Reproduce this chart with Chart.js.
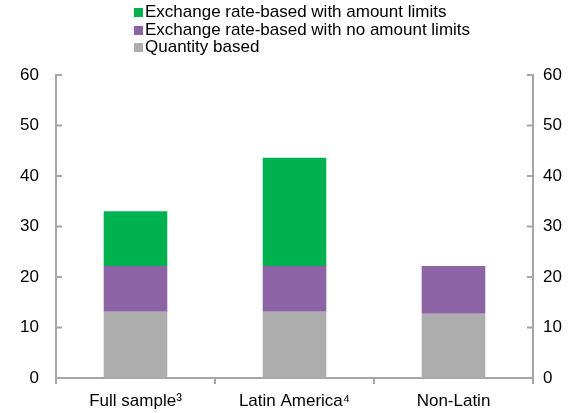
<!DOCTYPE html>
<html lang="en">
<head>
  <meta charset="UTF-8" />
  <title>Exchange rate-based programs</title>
  <script src="https://cdn.jsdelivr.net/npm/chart.js"></script>
  <style>
    body { margin: 0; background: #fff; }
    #wrap { position: relative; width: 576px; height: 413px; }
    #legend { position: absolute; left: 134px; top: 3px; font: 17px "Liberation Sans", Arial, sans-serif; color: #000; }
    #legend div { height: 17.5px; line-height: 17.5px; white-space: nowrap; }
    #legend span { display: inline-block; width: 9px; height: 9px; margin-right: 2px; vertical-align: 0px; }
  </style>
</head>
<body>
  <div id="wrap">
    <canvas id="chart" width="576" height="413"></canvas>
    <div id="legend"></div>
  </div>
  <script>
    const categories = ["Full sample\u00b3", "Latin America\u2074", "Non-Latin"];
    const quantityBased = [13.1, 13.1, 12.7];
    const noAmountLimits = [9.1, 9.1, 9.5];
    const withAmountLimits = [10.8, 21.4, 0];
    const yTicks = [0, 10, 20, 30, 40, 50, 60];

    const seriesNames = ["Quantity based", "Exchange rate-based with no amount limits", "Exchange rate-based with amount limits"];
    const seriesColors = ["#adadad", "#8c64a5", "#00b14f"];
    const axisColor = "#a6a6a6";
    const fontFamily = '"Liberation Sans", Arial, sans-serif';

    // legend, top entry = top of the stack
    const legend = document.getElementById("legend");
    for (let i = seriesNames.length - 1; i >= 0; i--) {
      const row = document.createElement("div");
      row.innerHTML = '<span style="background:' + seriesColors[i] + '"></span>' + seriesNames[i];
      legend.appendChild(row);
    }

    // small tick marks pointing into the plot on both value axes
    const innerTicks = {
      id: "innerTicks",
      afterDatasetsDraw(chart) {
        const ctx = chart.ctx;
        const yl = chart.scales.y, yr = chart.scales.y2;
        ctx.save();
        ctx.strokeStyle = axisColor;
        ctx.lineWidth = 2;
        yTicks.forEach(v => {
          const py = yl.getPixelForValue(v);
          ctx.beginPath();
          ctx.moveTo(yl.right, py); ctx.lineTo(yl.right + 6, py);
          ctx.moveTo(yr.left, py); ctx.lineTo(yr.left - 6, py);
          ctx.stroke();
        });
        ctx.restore();
      }
    };

    const valueAxis = (position, width, padding) => ({
      position,
      min: 0,
      max: 60,
      afterFit: s => { s.width = width; },
      afterBuildTicks: s => { s.ticks = yTicks.map(v => ({ value: v })); },
      border: { display: true, color: axisColor, width: 2 },
      grid: { display: false, drawTicks: false },
      ticks: { padding, color: "#000", font: { family: fontFamily, size: 17 } }
    });

    new Chart(document.getElementById("chart"), {
      type: "bar",
      data: {
        labels: categories,
        datasets: [quantityBased, noAmountLimits, withAmountLimits].map((d, i) => ({
          label: seriesNames[i],
          data: d,
          backgroundColor: seriesColors[i],
          borderWidth: 0,
          categoryPercentage: 1,
          barPercentage: 0.4
        }))
      },
      options: {
        responsive: false,
        animation: false,
        layout: { padding: { top: 75, bottom: 0, left: 0, right: 0 } },
        plugins: { legend: { display: false }, tooltip: { enabled: false } },
        scales: {
          x: {
            stacked: true,
            afterFit: s => { s.height = 35; },
            border: { display: true, color: axisColor, width: 2 },
            grid: { offset: true, drawOnChartArea: false, drawTicks: true, tickLength: 6, color: axisColor, lineWidth: 2 },
            ticks: { padding: 7, color: "#000", maxRotation: 0, font: { family: fontFamily, size: 17 } }
          },
          y: Object.assign(valueAxis("left", 56, 17), { stacked: true }),
          y2: valueAxis("right", 43, 10)
        }
      },
      plugins: [innerTicks]
    });
  </script>
</body>
</html>
